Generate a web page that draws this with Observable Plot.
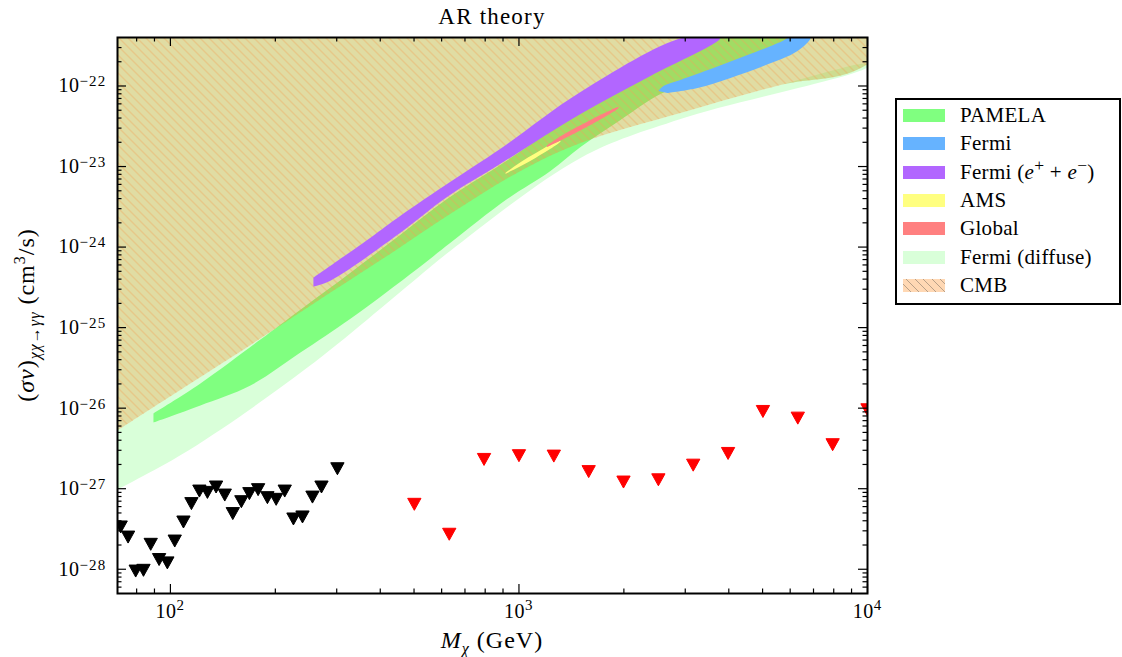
<!DOCTYPE html>
<html><head><meta charset="utf-8">
<script src="https://cdn.jsdelivr.net/npm/d3@7"></script>
<script src="https://cdn.jsdelivr.net/npm/@observablehq/plot@0.6"></script>
<style>
html,body{margin:0;padding:0;background:#fff;overflow:hidden;}
#wrap{position:relative;width:1122px;height:657px;font-family:"Liberation Serif","DejaVu Serif",serif;color:#000;}
#wrap svg{position:absolute;left:0;top:0;}
.ov{position:absolute;white-space:nowrap;line-height:1;}
#legend{position:absolute;left:895px;top:98px;width:226px;height:207px;border:2px solid #000;box-sizing:border-box;background:#fff;}
.row{position:absolute;left:0;height:21px;font-size:21px;line-height:21px;}
.patch{position:absolute;left:6px;top:4px;width:42px;height:13px;}
.lab{position:absolute;left:63px;top:0;white-space:nowrap;letter-spacing:0.3px;}
sub,sup{line-height:0;}
</style></head><body><div id="wrap"></div>
<script>
// ---------- data ----------
const blackMass  = [72.0, 75.6, 79.5, 83.7, 87.8, 92.8, 98.0, 102.9, 109.0, 114.9, 121.1, 127.7, 135.2, 143.2, 151.0, 159.8, 168.5, 178.5, 189.8, 201.1, 212.8, 225.4, 239.3, 255.6, 271.3, 301.4];
const blackSigma = [3.35e-28, 2.51e-28, 9.5e-29, 9.7e-29, 2.04e-28, 1.32e-28, 1.20e-28, 2.24e-28, 3.86e-28, 6.53e-28, 9.35e-28, 9.0e-28, 1.05e-27, 8.34e-28, 4.91e-28, 6.90e-28, 8.69e-28, 9.73e-28, 7.74e-28, 7.38e-28, 9.35e-28, 4.21e-28, 4.46e-28, 7.87e-28, 1.05e-27, 1.77e-27];
const redMass  = [501, 631, 794, 1000, 1259, 1585, 1995, 2512, 3162, 3981, 5012, 6310, 7943, 10000];
const redSigma = [6.40e-28, 2.72e-28, 2.31e-27, 2.57e-27, 2.54e-27, 1.63e-27, 1.21e-27, 1.29e-27, 1.96e-27, 2.74e-27, 9.10e-27, 7.52e-27, 3.52e-27, 9.55e-27];

// CMB exclusion boundary (region above it is excluded)
const cmbEdge = [[70.5, 5.28e-27], [114.1, 2.02e-26], [177.7, 6.90e-26], [287.8, 2.72e-25], [427.9, 8.27e-25], [636, 2.59e-24], [1010, 8.83e-24], [1502, 1.96e-23], [2907, 4.62e-23], [5627, 1.03e-22], [10000, 1.87e-22]];
// lower edge of the Fermi diffuse region
const diffuseEdge = [[70.5, 9.82e-28], [112.6, 2.99e-27], [247.2, 3.19e-26], [511.4, 4.17e-25], [636, 9.01e-25], [1502, 1.28e-23], [2907, 3.90e-23], [10000, 1.72e-22]];
const pamelaRegion = [[89.4, 8.59e-27], [121.9, 2.02e-26], [181.2, 7.10e-26], [236.0, 1.67e-25], [328.5, 4.81e-25], [457.1, 1.42e-24], [623.5, 3.97e-24], [885.1, 1.05e-23], [1502, 4.90e-23], [2384, 1.45e-22], [3318, 4e-22],
  [6093, 4e-22], [4322, 1.93e-22], [3318, 1.22e-22], [2547, 7.96e-23], [1956, 3.79e-23], [1502, 1.75e-23], [1231, 8.83e-24], [926.9, 3.97e-24], [636, 1.13e-24], [511.4, 5.39e-25], [328.5, 1.29e-25], [236.0, 4.90e-26], [169.7, 1.91e-26], [121.9, 1.08e-26], [100, 7.88e-27], [89.4, 6.64e-27]];
const fermiEERegion = [[257.2, 4.17e-25], [374.9, 1.31e-24], [457.1, 2.45e-24], [636.0, 6.46e-24], [885.1, 1.66e-23], [1502, 8.43e-23], [2965, 4e-22],
  [3786, 4e-22], [2384, 1.33e-22], [1502, 4.50e-23], [885.1, 1.08e-23], [623.5, 4.21e-24], [457.1, 1.51e-24], [287.8, 3.83e-25], [257.2, 3.23e-25]];
const fermiRegion = [[2513, 8.67e-23], [2597, 1.0e-22], [2907, 1.19e-22], [3615, 1.67e-22], [4526, 2.42e-22], [5627, 3.51e-22], [5972, 4e-22],
  [6862, 4e-22], [6297, 2.72e-22], [5029, 1.77e-22], [4046, 1.26e-22], [3253, 9.45e-23], [2667, 8.19e-23]];
const amsRegion = [[915, 8.34e-24], [1010, 1.13e-23], [1115, 1.46e-23], [1231, 1.86e-23], [1316, 2.08e-23],
  [1316, 2.05e-23], [1231, 1.66e-23], [1115, 1.28e-23], [1010, 1.005e-23], [915, 8.12e-24]];
const globalRegion = [[1199, 1.80e-23], [1316, 2.37e-23], [1452, 3.02e-23], [1604, 3.79e-23], [1771, 4.69e-23], [1930, 5.49e-23],
  [1930, 5.34e-23], [1771, 4.19e-23], [1604, 3.29e-23], [1452, 2.61e-23], [1316, 2.11e-23], [1207, 1.75e-23]];

const xTicks = [100, 1000, 10000];
const yTicks = [1e-28, 1e-27, 1e-26, 1e-25, 1e-24, 1e-23, 1e-22];
const xDomain = [70.5, 10000];
const yDomain = [5e-29, 4e-22];

const legendLabels = ["PAMELA", "Fermi", "Fermi (<i>e</i><sup>+</sup> + <i>e</i><sup>−</sup>)", "AMS", "Global", "Fermi (diffuse)", "CMB"];
const legendColors = ["#80ff80", "#66b3ff", "#b266ff", "#ffff80", "#ff8080", "#d9ffd9", "cmb"];

// ---------- layout ----------
const W = 1122, H = 657, mL = 117, mR = 255, mT = 37, mB = 64;
const pw = W - mL - mR, ph = H - mT - mB;

const pts = a => a.map(([x, y]) => ({x, y}));
// closing corners placed outside the frame (clipped away)
const farTop = 1e-20, farLeft = 30, farRight = 2e4;
const cmbPoly = [...cmbEdge, [farRight, farTop], [farLeft, farTop]];
const diffusePoly = [...cmbEdge, ...diffuseEdge.slice().reverse()];

const xMinor = [], yMinor = [];
for (let e = 1; e <= 3; e++) for (let k = 2; k <= 9; k++) { const v = k * 10 ** e; if (v > xDomain[0] && v < xDomain[1]) xMinor.push(v); }
for (let e = -29; e <= -22; e++) for (let k = 2; k <= 9; k++) { const v = k * 10 ** e; if (v > yDomain[0] && v < yDomain[1]) yMinor.push(v); }

const triDown = {draw(ctx, size) { const r = Math.sqrt(size / Math.PI); const w = r * 1.33, h = r * 1.2; ctx.moveTo(-w, -h); ctx.lineTo(w, -h); ctx.lineTo(0, h); ctx.closePath(); }};

const poly = (a, fill, extra = {}) => Plot.line(pts(a), {x: "x", y: "y", fill, stroke: "none", clip: true, curve: "catmull-rom", ...extra});
const tk = {stroke: "black", strokeWidth: 1.2};

const chart = Plot.plot({
  width: W, height: H, marginLeft: mL, marginRight: mR, marginTop: mT, marginBottom: mB,
  style: {fontFamily: '"Liberation Serif", "DejaVu Serif", serif', fontSize: "20px", background: "transparent", color: "black"},
  x: {type: "log", domain: xDomain},
  y: {type: "log", domain: yDomain},
  marks: [
    poly(diffusePoly, "#d9ffd9"),
    poly(pamelaRegion, "#80ff80"),
    poly(cmbPoly, "#c1b947", {fillOpacity: 0.5}),
    poly(cmbPoly, "#f0a051"),
    poly(fermiEERegion, "#b266ff"),
    poly(fermiRegion, "#66b3ff"),
    poly(amsRegion, "#ffff80"),
    poly(globalRegion, "#ff8080"),
    Plot.dot(blackMass.map((m, i) => ({m, s: blackSigma[i]})), {x: "m", y: "s", symbol: triDown, r: 5, fill: "black", stroke: "black", strokeWidth: 1, clip: true}),
    Plot.dot(redMass.map((m, i) => ({m, s: redSigma[i]})), {x: "m", y: "s", symbol: triDown, r: 5, fill: "red", stroke: "red", strokeWidth: 1, clip: true}),
    Plot.tickX(xTicks, {x: d => d, insetTop: ph - 9, ...tk}),
    Plot.tickX(xTicks, {x: d => d, insetBottom: ph - 9, ...tk}),
    Plot.tickX(xMinor, {x: d => d, insetTop: ph - 4.5, ...tk}),
    Plot.tickX(xMinor, {x: d => d, insetBottom: ph - 4.5, ...tk}),
    Plot.tickY(yTicks, {y: d => d, insetRight: pw - 9, ...tk}),
    Plot.tickY(yTicks, {y: d => d, insetLeft: pw - 9, ...tk}),
    Plot.tickY(yMinor, {y: d => d, insetRight: pw - 4.5, ...tk}),
    Plot.tickY(yMinor, {y: d => d, insetLeft: pw - 4.5, ...tk}),
    Plot.frame({stroke: "black", strokeWidth: 2}),
    Plot.axisX({ticks: xTicks, tickSize: 0, tickPadding: 10, label: null, tickFormat: d => "10^" + Math.round(Math.log10(d))}),
    Plot.axisY({ticks: yTicks, tickSize: 0, tickPadding: 11, label: null, tickFormat: d => "10^−" + Math.round(-Math.log10(d))})
  ]
});

const svg = d3.select(chart);
const defs = svg.insert("defs", ":first-child");
const pat = defs.append("pattern").attr("id", "cmbHatch").attr("patternUnits", "userSpaceOnUse").attr("width", 9).attr("height", 9);
pat.append("path").attr("d", "M-1,-1L10,10M-1,8L1,10M8,-1L10,1").attr("stroke", "#f2a458").attr("stroke-opacity", 0.7).attr("stroke-width", 1).attr("fill", "none");
svg.selectAll("[fill]").filter(function () { return (this.getAttribute("fill") || "").toLowerCase() === "#f0a051"; })
  .attr("fill", "url(#cmbHatch)");

function sup(sel, raise) {
  svg.selectAll(sel).each(function () {
    const t = this.textContent; if (!t.includes("^")) return;
    const [b, e] = t.split("^");
    const el = d3.select(this); el.text(null).attr("font-size", 20);
    el.append("tspan").attr("letter-spacing", 0.5).text(b);
    el.append("tspan").attr("font-size", 15).attr("letter-spacing", 1.2).attr("dy", -raise).text(e);
  });
}
sup('[aria-label="x-axis tick label"] text', 8);
sup('[aria-label="y-axis tick label"] text', 6);

const wrap = document.getElementById("wrap");
wrap.appendChild(chart);

function ov(html, css) { const d = document.createElement("div"); d.className = "ov"; d.innerHTML = html; Object.assign(d.style, css); wrap.appendChild(d); return d; }
ov("AR theory", {left: (mL + pw / 2) + "px", top: "5px", fontSize: "23px", letterSpacing: "1.2px", transform: "translateX(-50%)"});
ov("<i>M</i><sub style='font-size:16px'><i>χ</i></sub>&nbsp;(GeV)", {left: (mL + pw / 2) + "px", top: "628px", fontSize: "24px", letterSpacing: "1px", transform: "translateX(-50%)"});
ov("(<i>σv</i>)<sub style='font-size:16px'><i>χχ</i>→<i>γγ</i></sub>&nbsp;(cm<sup style='font-size:16px'>3</sup>/s)", {left: "26px", top: (mT + ph / 2) + "px", fontSize: "24px", letterSpacing: "1px", transform: "translate(-50%,-50%) rotate(-90deg)"});

const lg = document.createElement("div"); lg.id = "legend"; wrap.appendChild(lg);
legendLabels.forEach((lab, i) => {
  const c = 115.3 + i * 28.4 - 100;
  const row = document.createElement("div"); row.className = "row"; row.style.top = (c - 10.5) + "px"; row.style.width = "220px";
  const p = document.createElement("div"); p.className = "patch";
  if (legendColors[i] === "cmb") p.style.background = "repeating-linear-gradient(45deg, #ffd8b4 0px, #ffd8b4 5px, #b8a088 5px, #b8a088 6px)";
  else p.style.background = legendColors[i];
  const l = document.createElement("div"); l.className = "lab"; l.innerHTML = lab;
  row.appendChild(p); row.appendChild(l); lg.appendChild(row);
});
</script></body></html>
